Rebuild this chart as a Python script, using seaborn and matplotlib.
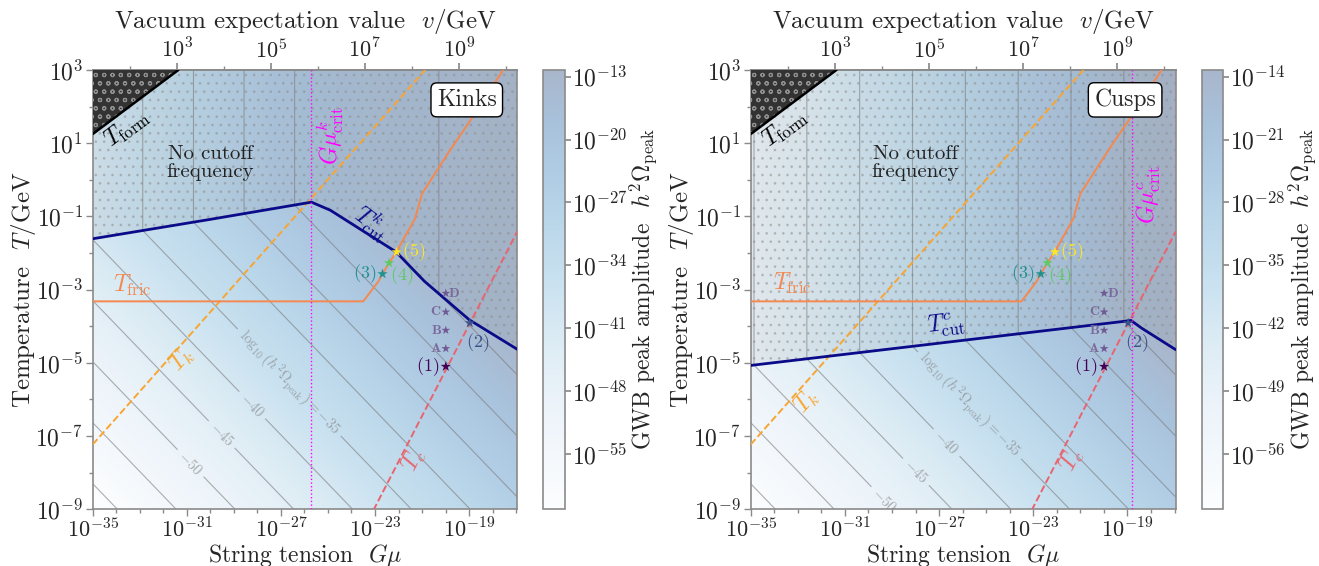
import numpy as np
import matplotlib
matplotlib.use("Agg")
import matplotlib.pyplot as plt
from matplotlib.colors import LogNorm
import seaborn as sns

# values, all as log10
gmu_lim = (-35.0, -16.95)
temp_lim = (-9.0, 3.0)

tcut_k_gmu = [-35.0, -30.0, -25.7, -24.9, -22.1, -20.9, -19.0, -16.95]
tcut_k_t = [-1.61, -1.08, -0.61, -0.83, -1.97, -2.77, -3.82, -4.63]
tcut_c_gmu = [-35.0, -19.2, -18.85, -18.4, -16.95]
tcut_c_t = [-5.07, -3.87, -3.84, -4.05, -4.64]

tfric_gmu = [-35.0, -23.5, -22.85, -22.68, -22.40, -22.10, -21.3, -21.0, -19.9, -18.75, -17.55]
tfric_t = [-3.32, -3.32, -2.77, -2.57, -2.27, -1.98, -1.06, -0.38, 0.72, 1.81, 3.0]

tk_gmu = [-35.0, -20.87]
tk_t = [-7.23, 3.0]
tc_gmu = [-23.07, -16.95]
tc_t = [-9.03, -1.41]
tform_gmu = [-35.0, -31.36]
tform_t = [1.25, 3.0]

gmu_crit_k = -25.7
gmu_crit_c = -18.82

# benchmark points
bench_labels = ["(1)", "(2)", "(3)", "(4)", "(5)"]
bench_gmu = [-19.99, -18.97, -22.68, -22.40, -22.08]
bench_t = [-5.10, -3.91, -2.57, -2.27, -1.97]
letter_labels = ["A", "B", "C", "D"]
letter_gmu = [-19.99, -19.99, -19.99, -19.99]
letter_t = [-4.61, -4.11, -3.61, -3.10]

# peak amplitude surface, log10(h^2 Omega) = off + a*logGmu + b*min(logT, logTcut)
omega_coef_gmu = 2.0
omega_coef_t = 3.0
omega_off_k = 34.9
omega_off_c = 34.9
contour_levels = [-65.0, -60.0, -55.0, -50.0, -45.0, -40.0, -35.0, -30.0, -25.0, -20.0, -15.0, -10.0]
label_levels = [-50.0, -45.0, -40.0, -35.0]

cbar_lim_k = (-61.1, -12.25)
cbar_lim_c = (-62.1, -13.25)
cbar_ticks_k = [-13, -20, -27, -34, -41, -48, -55]
cbar_ticks_c = [-14, -21, -28, -35, -42, -49, -56]

# top axis: log Gmu = 2 log v + vev_shift
vev_shift = -37.43

xticks_major = [-35, -31, -27, -23, -19]
yticks_major = [3, 1, -1, -3, -5, -7, -9]
vticks_major = [3, 5, 7, 9]

bench_colors = ["#440154", "#3b528b", "#21918c", "#5ec962", "#fde725"]
c_cut = "#0b0b8a"
c_fric = "#f5884f"
c_k = "#f8a531"
c_c = "#e9646e"
c_crit = "#ff00ff"
c_spine = "#8a8a8a"
c_cont = "#7a7a7a"

sns.set_theme(style="ticks")
plt.rcParams["font.family"] = ["cmr10", "DejaVu Serif"]
plt.rcParams["mathtext.fontset"] = "cm"
plt.rcParams["axes.unicode_minus"] = False
plt.rcParams["axes.formatter.use_mathtext"] = True
plt.rcParams["hatch.linewidth"] = 0.8

fig = plt.figure(figsize=(13.19, 5.66), dpi=100)
W, H = 1319.0, 566.0


def box(x0, y0, x1, y1):
    return [x0 / W, 1 - y1 / H, (x1 - x0) / W, (y1 - y0) / H]


def p10(v):
    return 10.0 ** np.asarray(v, dtype=float)


def gmu2v(g):
    return np.sqrt(np.clip(g, 1e-300, None) / 10.0 ** vev_shift)


def v2gmu(v):
    return np.asarray(v) ** 2 * 10.0 ** vev_shift


def draw_panel(ax, cax, tcut_x, tcut_y, off, clim, cticks, name, crit, txt):
    ax.set_xscale("log")
    ax.set_yscale("log")

    gx = np.linspace(gmu_lim[0], gmu_lim[1], 500)
    gy = np.linspace(temp_lim[0], temp_lim[1], 400)
    X, Y = np.meshgrid(gx, gy)
    tc_grid = np.interp(X, tcut_x, tcut_y)
    Z = off + omega_coef_gmu * X + omega_coef_t * np.minimum(Y, tc_grid)

    mesh = ax.pcolormesh(p10(X), p10(Y), p10(Z), cmap="Blues", alpha=0.35,
                         norm=LogNorm(10.0 ** clim[0], 10.0 ** clim[1]),
                         shading="auto", rasterized=True, zorder=0)

    other = [lv for lv in contour_levels if lv not in label_levels]
    ax.contour(p10(X), p10(Y), Z, levels=other, colors=c_cont,
               linewidths=0.8, linestyles="solid", alpha=0.6, zorder=1)
    cs = ax.contour(p10(X), p10(Y), Z, levels=label_levels, colors=c_cont,
                    linewidths=0.8, linestyles="solid", alpha=0.6, zorder=1)
    fmt = {-50.0: r"$-50$", -45.0: r"$-45$", -40.0: r"$-40$",
           -35.0: r"$\log_{10}\left(h^2\Omega_{\rm peak}\right) = -35$"}
    manual = [(float(p10(x)), float(p10(y))) for x, y in txt["clabels"]]
    ax.clabel(cs, manual=manual, inline=True, fmt=fmt, fontsize=10.5, colors=c_cont)

    # hatched region above T_cut (no cutoff frequency)
    tcut_dense = np.interp(gx, tcut_x, tcut_y)
    ax.fill_between(p10(gx), p10(tcut_dense), 10.0 ** temp_lim[1],
                    facecolor=(0.5, 0.5, 0.5, 0.10), edgecolor="none", zorder=2)
    ax.fill_between(p10(gx), p10(tcut_dense), 10.0 ** temp_lim[1],
                    facecolor="none", edgecolor=(0.55, 0.55, 0.55, 0.4),
                    hatch="..", linewidth=0, zorder=2)

    # formation region
    fx = np.linspace(tform_gmu[0], tform_gmu[1], 50)
    fy = np.interp(fx, tform_gmu, tform_t)
    ax.fill_between(p10(fx), p10(fy), 10.0 ** temp_lim[1], facecolor="#333333",
                    edgecolor="#8f8f8f", hatch="oo", linewidth=0, zorder=4)
    sns.lineplot(x=p10(tform_gmu), y=p10(tform_t), ax=ax, color="black",
                 linewidth=1.8, estimator=None, sort=False, zorder=5)

    sns.lineplot(x=p10(tk_gmu), y=p10(tk_t), ax=ax, color=c_k, linewidth=1.4,
                 linestyle="--", estimator=None, sort=False, zorder=3)
    sns.lineplot(x=p10(tc_gmu), y=p10(tc_t), ax=ax, color=c_c, linewidth=1.4,
                 linestyle="--", estimator=None, sort=False, zorder=3)
    sns.lineplot(x=p10(tfric_gmu), y=p10(tfric_t), ax=ax, color=c_fric,
                 linewidth=1.4, estimator=None, sort=False, zorder=3)
    sns.lineplot(x=p10(tcut_x), y=p10(tcut_y), ax=ax, color=c_cut,
                 linewidth=2.0, estimator=None, sort=False, zorder=3)
    ax.axvline(10.0 ** crit, color=c_crit, linestyle=":", linewidth=1.0, zorder=3)

    # benchmark stars
    sns.scatterplot(x=p10(letter_gmu), y=p10(letter_t), ax=ax, marker="*",
                    s=45, color="#6f5a92", edgecolor="none", legend=False, zorder=6)
    sns.scatterplot(x=p10(bench_gmu), y=p10(bench_t), hue=bench_labels,
                    palette=bench_colors, ax=ax, marker="*", s=60,
                    edgecolor="none", legend=False, zorder=6)
    bench_off = [(-13, 0), (6, -14), (-13, 0), (9, -9), (12, 0)]
    for lab, x, y, col, o in zip(bench_labels, bench_gmu, bench_t, bench_colors, bench_off):
        ax.annotate(r"$\mathbf{" + lab + "}$", (p10(x), p10(y)), xytext=o,
                    textcoords="offset points", ha="center", va="center",
                    color=col, fontsize=13, zorder=7)
    for lab, x, y in zip(letter_labels, letter_gmu, letter_t):
        o = (6, 0) if lab == "D" else (-7, 0)
        ax.annotate(r"$\mathbf{" + lab + "}$", (p10(x), p10(y)), xytext=o,
                    textcoords="offset points", ha="center", va="center",
                    color="#7a6a9c", fontsize=10, zorder=7)

    # curve labels
    ax.text(*p10(txt["form"]), r"$T_{\rm form}$", rotation=37, ha="center",
            va="center", fontsize=17, color="black", zorder=7)
    ax.text(*p10(txt["fric"]), r"$T_{\rm fric}$", ha="center", va="center",
            fontsize=17, color=c_fric, zorder=7)
    ax.text(*p10(txt["k"]), r"$T_k$", rotation=48, ha="center", va="center",
            fontsize=17, color=c_k, zorder=7)
    ax.text(*p10(txt["c"]), r"$T_c$", rotation=63, ha="center", va="center",
            fontsize=17, color=c_c, zorder=7)
    ax.text(*p10(txt["cut"]), txt["cut_label"], rotation=txt["cut_rot"],
            ha="center", va="center", fontsize=17, color=c_cut, zorder=7)
    ax.text(*p10(txt["crit"]), txt["crit_label"], rotation=90, ha="center",
            va="center", fontsize=17, color=c_crit, zorder=7)
    ax.text(*p10(txt["nocut"]), "No cutoff\nfrequency", ha="center",
            va="center", fontsize=15, color="#222222", linespacing=1.0, zorder=7)
    ax.text(0.881, 0.932, name, transform=ax.transAxes, ha="center", va="center",
            fontsize=17, zorder=8,
            bbox=dict(boxstyle="round,pad=0.25", fc="white", ec="black", lw=1.0))

    ax.set_xlim(10.0 ** gmu_lim[0], 10.0 ** gmu_lim[1])
    ax.set_ylim(10.0 ** temp_lim[0], 10.0 ** temp_lim[1])
    ax.set_xticks(p10(xticks_major), labels=[rf"$10^{{{e}}}$" for e in xticks_major])
    ax.set_xticks(p10(np.arange(-35, -16)), minor=True)
    ax.set_yticks(p10(yticks_major), labels=[rf"$10^{{{e}}}$" for e in yticks_major])
    ax.set_yticks(p10(np.arange(-9, 4)), minor=True)
    ax.set_xticklabels([], minor=True)
    ax.set_yticklabels([], minor=True)
    ax.tick_params(which="both", direction="out", color=c_spine, labelsize=17,
                   width=1.0, pad=2)
    ax.tick_params(axis="x", which="major", pad=1, labelsize=16)
    ax.tick_params(which="major", length=5)
    ax.tick_params(which="minor", length=3)
    for sp in ax.spines.values():
        sp.set_visible(True)
        sp.set_color(c_spine)
        sp.set_linewidth(1.2)
    ax.set_xlabel(r"String tension  $G\mu$", fontsize=17, labelpad=0)
    ax.set_ylabel(r"Temperature  $T/$GeV", fontsize=18, labelpad=-2)

    sec = ax.secondary_xaxis("top", functions=(gmu2v, v2gmu))
    sec.set_xticks(p10(vticks_major), labels=[rf"$10^{{{e}}}$" for e in vticks_major])
    sec.set_xticks(p10(np.arange(2, 11)), minor=True)
    sec.set_xticklabels([], minor=True)
    sec.tick_params(which="both", direction="out", color=c_spine, labelsize=16, pad=1)
    sec.tick_params(which="major", length=5)
    sec.tick_params(which="minor", length=3)
    sec.spines["top"].set_color(c_spine)
    sec.set_xlabel(r"Vacuum expectation value  $v/$GeV", fontsize=18, labelpad=7)

    cb = fig.colorbar(mesh, cax=cax)
    cb.set_ticks(p10(cticks), labels=[rf"$10^{{{e}}}$" for e in cticks])
    cb.ax.minorticks_off()
    cb.ax.tick_params(labelsize=17, color=c_spine, length=4, pad=1)
    cb.outline.set_edgecolor(c_spine)
    cb.outline.set_linewidth(1.2)
    cb.set_label(r"GWB peak amplitude  $h^2\Omega_{\rm peak}$", fontsize=17, labelpad=0)


txt_k = {
    "clabels": [(-30.6, -7.59), (-29.22, -6.77), (-27.97, -6.0), (-26.3, -5.32)],
    "form": (-33.55, 1.42), "fric": (-33.3, -2.88), "k": (-31.2, -4.9),
    "c": (-21.35, -7.66), "cut": (-23.14, -1.16), "cut_rot": -37,
    "cut_label": r"$T^{k}_{\rm cut}$", "crit": (-24.92, 1.2),
    "crit_label": r"$G\mu^{k}_{\rm crit}$", "nocut": (-30.0, 0.46),
}
txt_c = {
    "clabels": [(-29.07, -8.59), (-27.67, -7.77), (-26.5, -7.05), (-25.3, -5.9)],
    "form": (-33.55, 1.42), "fric": (-33.25, -2.84), "k": (-32.6, -6.05),
    "c": (-21.35, -7.66), "cut": (-26.7, -3.97), "cut_rot": 7,
    "cut_label": r"$T^{c}_{\rm cut}$", "crit": (-18.1, -0.42),
    "crit_label": r"$G\mu^{c}_{\rm crit}$", "nocut": (-28.0, 0.46),
}

ax1 = fig.add_axes(box(92.7, 70, 517.3, 509.3))
cax1 = fig.add_axes(box(543.3, 70, 565.0, 508.5))
ax2 = fig.add_axes(box(750.7, 70, 1175.7, 509.3))
cax2 = fig.add_axes(box(1201.7, 70, 1223.3, 508.5))

draw_panel(ax1, cax1, tcut_k_gmu, tcut_k_t, omega_off_k, cbar_lim_k, cbar_ticks_k,
           "Kinks", gmu_crit_k, txt_k)
draw_panel(ax2, cax2, tcut_c_gmu, tcut_c_t, omega_off_c, cbar_lim_c, cbar_ticks_c,
           "Cusps", gmu_crit_c, txt_c)

fig.savefig("out.png", dpi=100)
